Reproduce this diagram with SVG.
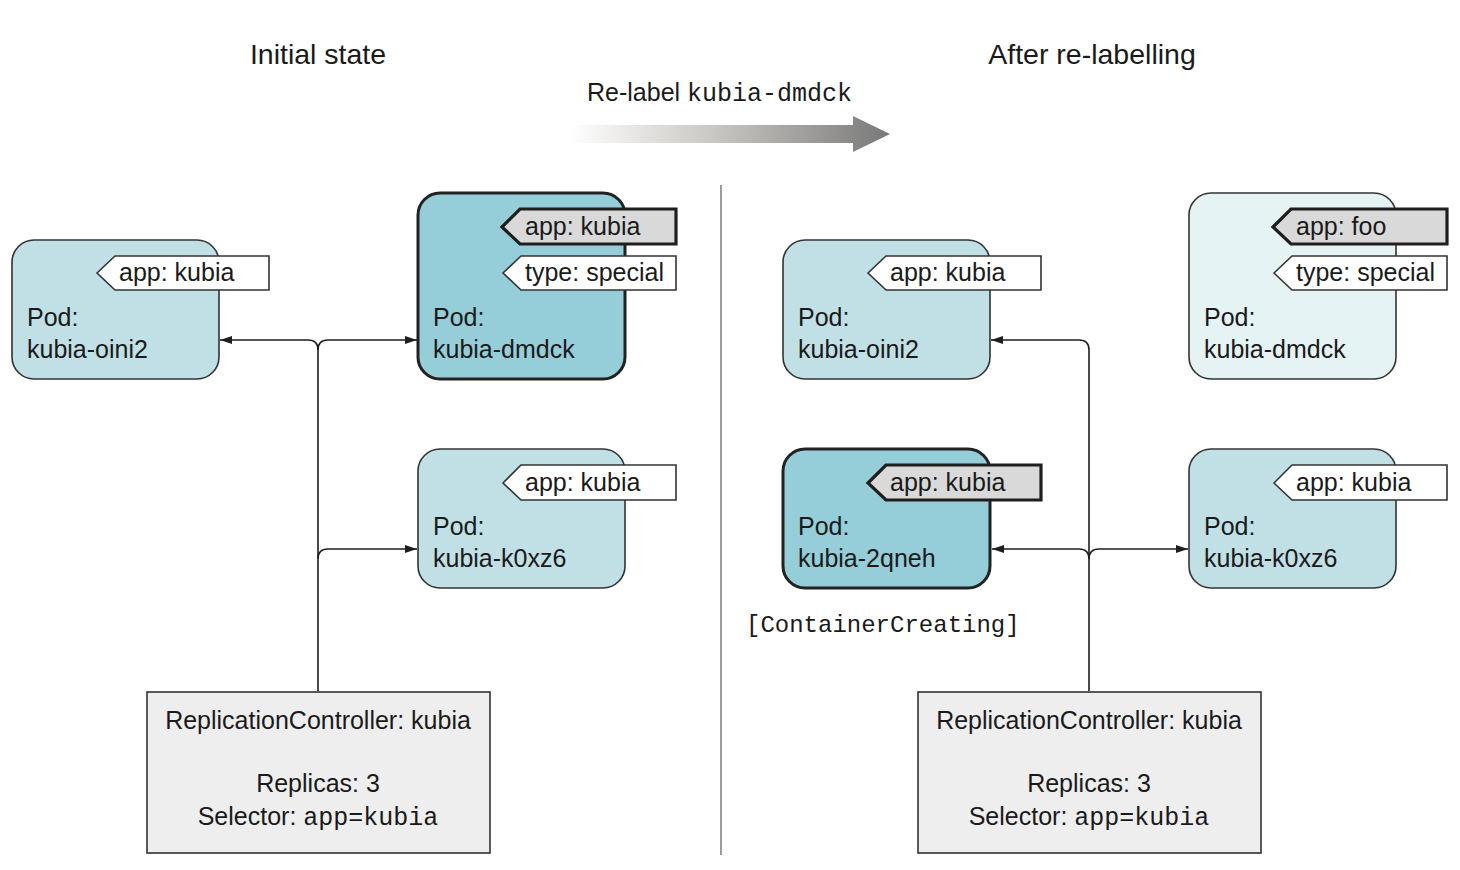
<svg xmlns="http://www.w3.org/2000/svg" width="1460" height="870" viewBox="0 0 1460 870">
  <defs>
    <linearGradient id="relabelGrad" gradientUnits="userSpaceOnUse" x1="570" y1="0" x2="890" y2="0">
      <stop offset="0" stop-color="#ffffff"/>
      <stop offset="0.45" stop-color="#c9c7c3"/>
      <stop offset="1" stop-color="#787878"/>
    </linearGradient>
    <marker id="arrow" markerWidth="12" markerHeight="8" refX="12" refY="4" orient="auto" markerUnits="userSpaceOnUse">
      <path d="M0,0 L12,4 L0,8 Z" fill="#1e1e1e"/>
    </marker>
  </defs>
  <style>
    text { font-family: "Liberation Sans", Arial, Helvetica, sans-serif; fill: #1a1a1a; }
    .title { font-size: 28.5px; text-anchor: middle; }
    .body { font-size: 25px; }
    .mono { font-family: "Liberation Mono", "Courier New", monospace; }
    .status { font-size: 24px; }
    .center { text-anchor: middle; }
    .pod { fill: #c1e0e5; stroke: #333333; stroke-width: 1.6; }
    .pod-hot { fill: #95cdd9; stroke: #222222; stroke-width: 3; }
    .pod-gone { fill: #e6f3f4; stroke: #333333; stroke-width: 1.6; }
    .tag { fill: #ffffff; stroke: #333333; stroke-width: 1.6; }
    .tag-hot { fill: #d9d9d9; stroke: #1e1e1e; stroke-width: 3.2; }
    .rc { fill: #eeeeee; stroke: #333333; stroke-width: 1.6; }
    .conn { fill: none; stroke: #1e1e1e; stroke-width: 1.6; }
  </style>

  <rect width="1460" height="870" fill="#ffffff"/>

  <!-- headings -->
  <text class="title" x="318" y="64">Initial state</text>
  <text class="title" x="1092" y="64">After re-labelling</text>

  <!-- relabel step arrow -->
  <g id="relabel-step">
    <text class="body" x="587" y="101">Re-label <tspan class="mono">kubia-dmdck</tspan></text>
    <path d="M570,125 H853 V116 L890,134 L853,152 V143 H570 Z" fill="url(#relabelGrad)"/>
  </g>

  <!-- divider -->
  <line x1="721" y1="185" x2="721" y2="855" stroke="#7a7a7a" stroke-width="1.5"/>

  <!-- connectors -->
  <g id="connectors">
    <path class="conn" d="M318,691 V350 Q318,340 308,340 H220" marker-end="url(#arrow)"/>
    <path class="conn" d="M318,350 Q318,340 328,340 H417" marker-end="url(#arrow)"/>
    <path class="conn" d="M318,559 Q318,549 328,549 H417" marker-end="url(#arrow)"/>

    <path class="conn" d="M1089,691 V350 Q1089,340 1079,340 H991" marker-end="url(#arrow)"/>
    <path class="conn" d="M1089,559 Q1089,549 1079,549 H992" marker-end="url(#arrow)"/>
    <path class="conn" d="M1089,559 Q1089,549 1099,549 H1188" marker-end="url(#arrow)"/>
  </g>

  <!-- left: initial state -->
  <g id="pod-oini2-before">
    <rect class="pod" x="12" y="240" width="207" height="139" rx="22"/>
    <path class="tag" d="M97,273 L115,256 H269 V290 H115 Z"/>
    <text class="body" x="119" y="281">app: kubia</text>
    <text class="body" x="27" y="326">Pod:</text>
    <text class="body" x="27" y="358">kubia-oini2</text>
  </g>

  <g id="pod-dmdck-before">
    <rect class="pod-hot" x="418" y="193" width="207" height="186" rx="22"/>
    <path class="tag-hot" d="M502,227 L520,209 H676 V244 H520 Z"/>
    <text class="body" x="525" y="235">app: kubia</text>
    <path class="tag" d="M503,273 L521,256 H676 V290 H521 Z"/>
    <text class="body" x="525" y="281">type: special</text>
    <text class="body" x="433" y="326">Pod:</text>
    <text class="body" x="433" y="358">kubia-dmdck</text>
  </g>

  <g id="pod-k0xz6-before">
    <rect class="pod" x="418" y="449" width="207" height="139" rx="22"/>
    <path class="tag" d="M503,483 L521,465 H676 V500 H521 Z"/>
    <text class="body" x="525" y="491">app: kubia</text>
    <text class="body" x="433" y="535">Pod:</text>
    <text class="body" x="433" y="567">kubia-k0xz6</text>
  </g>

  <g id="rc-before">
    <rect class="rc" x="147" y="692" width="343" height="161"/>
    <text class="body center" x="318" y="729">ReplicationController: kubia</text>
    <text class="body center" x="318" y="792">Replicas: 3</text>
    <text class="body center" x="318" y="825">Selector: <tspan class="mono">app=kubia</tspan></text>
  </g>

  <!-- right: after re-labelling -->
  <g id="pod-oini2-after">
    <rect class="pod" x="783" y="240" width="207" height="139" rx="22"/>
    <path class="tag" d="M868,273 L886,256 H1041 V290 H886 Z"/>
    <text class="body" x="890" y="281">app: kubia</text>
    <text class="body" x="798" y="326">Pod:</text>
    <text class="body" x="798" y="358">kubia-oini2</text>
  </g>

  <g id="pod-dmdck-after">
    <rect class="pod-gone" x="1189" y="193" width="207" height="186" rx="22"/>
    <path class="tag-hot" d="M1273,227 L1291,209 H1447 V244 H1291 Z"/>
    <text class="body" x="1296" y="235">app: foo</text>
    <path class="tag" d="M1274,273 L1292,256 H1447 V290 H1292 Z"/>
    <text class="body" x="1296" y="281">type: special</text>
    <text class="body" x="1204" y="326">Pod:</text>
    <text class="body" x="1204" y="358">kubia-dmdck</text>
  </g>

  <g id="pod-2qneh-after">
    <rect class="pod-hot" x="783" y="449" width="207" height="139" rx="22"/>
    <path class="tag-hot" d="M868,483 L886,465 H1041 V500 H886 Z"/>
    <text class="body" x="890" y="491">app: kubia</text>
    <text class="body" x="798" y="535">Pod:</text>
    <text class="body" x="798" y="567">kubia-2qneh</text>
    <text class="mono status" x="746" y="632">[ContainerCreating]</text>
  </g>

  <g id="pod-k0xz6-after">
    <rect class="pod" x="1189" y="449" width="207" height="139" rx="22"/>
    <path class="tag" d="M1274,483 L1292,465 H1447 V500 H1292 Z"/>
    <text class="body" x="1296" y="491">app: kubia</text>
    <text class="body" x="1204" y="535">Pod:</text>
    <text class="body" x="1204" y="567">kubia-k0xz6</text>
  </g>

  <g id="rc-after">
    <rect class="rc" x="918" y="692" width="343" height="161"/>
    <text class="body center" x="1089" y="729">ReplicationController: kubia</text>
    <text class="body center" x="1089" y="792">Replicas: 3</text>
    <text class="body center" x="1089" y="825">Selector: <tspan class="mono">app=kubia</tspan></text>
  </g>
</svg>
